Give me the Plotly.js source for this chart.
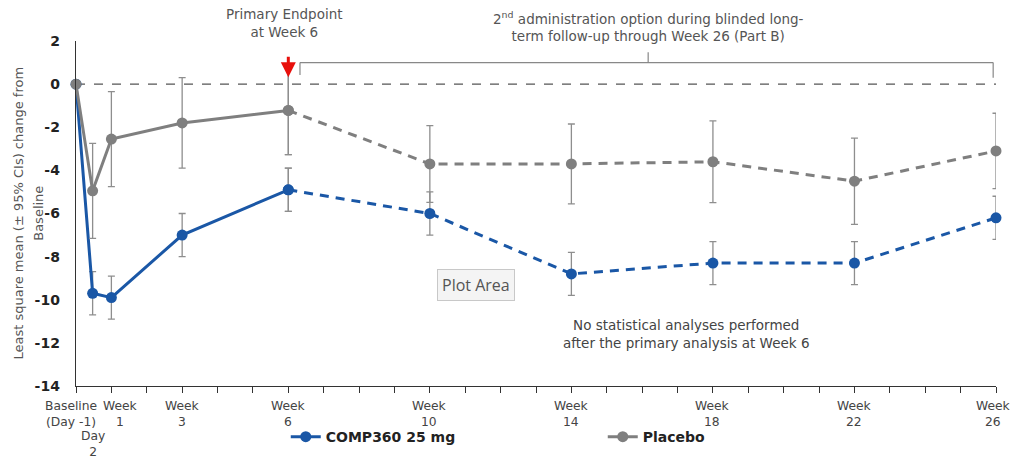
<!DOCTYPE html>
<html>
<head>
<meta charset="utf-8">
<script src="https://cdn.plot.ly/plotly-3.0.1.min.js"></script>
<style>html,body{margin:0;padding:0;background:#fff;}#chart{width:1010px;height:458px;}</style>
</head>
<body>
<div id="chart"></div>
<script>
// ---- data ----
const categories = ['Baseline<br>(Day -1)', 'Day<br>2', 'Week<br>1', 'Week<br>3', 'Week<br>6', 'Week<br>10', 'Week<br>14', 'Week<br>18', 'Week<br>22', 'Week<br>26'];
const weeks = [0, 0.47, 1, 3, 6, 10, 14, 18, 22, 26];
const comp360 = [0, -9.7, -9.9, -7.0, -4.9, -6.0, -8.8, -8.3, -8.3, -6.2];
const comp360CI = [0, 1.0, 1.0, 1.0, 1.0, 1.0, 1.0, 1.0, 1.0, 1.0];
const placebo = [0, -4.95, -2.55, -1.8, -1.22, -3.7, -3.7, -3.6, -4.5, -3.1];
const placeboCI = [0, 2.2, 2.2, 2.1, 2.05, 1.78, 1.85, 1.9, 2.0, 1.75];
const seriesNames = ['COMP360 25 mg', 'Placebo'];
const yTicks = [2, 0, -2, -4, -6, -8, -10, -12, -14];
const weekTicks = Array.from({length: 27}, (_, i) => i);
const primaryIdx = 4; // Week 6

const BLUE = '#1a57a6';
const GREY = '#7f7f7f';
const ERR = '#8e8e8e';
const FONT = 'DejaVu Sans, Open Sans, sans-serif';

function part(arr, a, b) { return arr.slice(a, b); }

function makeTraces(name, vals, ci, color) {
  const n = vals.length;
  const common = {
    type: 'scatter', mode: 'lines+markers', cliponaxis: false,
    marker: {color: color, size: 11},
    legendgroup: name, name: name, hoverinfo: 'x+y'
  };
  const solid = Object.assign({}, common, {
    x: part(weeks, 0, primaryIdx + 1), y: part(vals, 0, primaryIdx + 1),
    line: {color: color, width: 3},
    error_y: {type: 'data', array: part(ci, 0, primaryIdx + 1), color: ERR, thickness: 1.3, width: 3.5},
    showlegend: true
  });
  const dashed = Object.assign({}, common, {
    x: part(weeks, primaryIdx, n), y: part(vals, primaryIdx, n),
    line: {color: color, width: 3, dash: '9px,7px'},
    error_y: {type: 'data', array: part(ci, primaryIdx, n), color: ERR, thickness: 1.3, width: 3.5},
    showlegend: false
  });
  return [solid, dashed];
}

const data = [].concat(
  makeTraces(seriesNames[0], comp360, comp360CI, BLUE),
  makeTraces(seriesNames[1], placebo, placeboCI, GREY)
);

// x-axis labels as annotations (positioned with the axis scale)
const labelShift = [-5, 0, 9, 0, 0, 0, 0, 0, 0, -3];
const labelY = [-0.032, -0.118, -0.032, -0.032, -0.032, -0.032, -0.032, -0.032, -0.032, -0.032];
const annotations = categories.map((c, i) => ({
  x: weeks[i], xref: 'x', y: labelY[i], yref: 'paper', yanchor: 'top',
  text: c, showarrow: false, xshift: labelShift[i],
  font: {family: FONT, size: 12.3, color: '#444'}
}));

const yTitleLines = ['Least square mean (± 95% CIs) change from', 'Baseline'];
const yTitleX = [-0.063, -0.041];
yTitleLines.forEach((t, i) => annotations.push({
  x: yTitleX[i], xref: 'paper', xanchor: 'center', y: 0.5, yref: 'paper', yanchor: 'middle',
  textangle: -90, showarrow: false, text: t,
  font: {family: FONT, size: 13, color: '#555'}
}));

annotations.push(
  {x: weeks[primaryIdx], xref: 'x', xshift: -4, y: 1.051, yref: 'paper', yanchor: 'middle', showarrow: false,
   text: 'Primary Endpoint<br>at Week 6', font: {family: FONT, size: 13.5, color: '#555'}},
  {x: weeks[primaryIdx], xref: 'x', y: 0.32, yref: 'y', showarrow: true, ax: 0, ay: -22,
   arrowcolor: '#e8100c', arrowwidth: 3, arrowhead: 2, arrowsize: 1, text: ''},
  {x: 16.17, xref: 'x', y: 1.042, yref: 'paper', yanchor: 'middle', showarrow: false,
   text: '2<sup>nd</sup> administration option during blinded long-<br>term follow-up through Week 26 (Part B)',
   font: {family: FONT, size: 13.5, color: '#555'}},
  {x: 17.24, xref: 'x', y: -11.57, yref: 'y', showarrow: false,
   text: 'No statistical analyses performed<br>after the primary analysis at Week 6',
   font: {family: FONT, size: 13.5, color: '#444'}},
  {x: 0.435, xref: 'paper', y: 0.246, yref: 'paper', showarrow: false,
   text: 'Plot Area', bgcolor: '#f4f4f4', bordercolor: '#c8c8c8', borderwidth: 1, borderpad: 4,
   font: {family: 'Open Sans, sans-serif', size: 16, color: '#555'}}
);

const shapes = [
  {type: 'line', xref: 'x', yref: 'y', x0: 0, x1: 26, y0: 0, y1: 0,
   line: {color: '#555', width: 1.2, dash: 'dash'}, layer: 'below'},
  // bracket for Part B
  {type: 'line', xref: 'x', yref: 'y', x0: 6.33, x1: 25.92, y0: 1.0, y1: 1.0, line: {color: '#888', width: 1.2}},
  {type: 'line', xref: 'x', yref: 'y', x0: 6.33, x1: 6.33, y0: 1.0, y1: 0.42, line: {color: '#888', width: 1.2}},
  {type: 'line', xref: 'x', yref: 'y', x0: 25.92, x1: 25.92, y0: 1.0, y1: 0.3, line: {color: '#888', width: 1.2}},
  {type: 'line', xref: 'x', yref: 'y', x0: 16.17, x1: 16.17, y0: 1.0, y1: 1.48, line: {color: '#888', width: 1.2}}
];

const layout = {
  width: 1010, height: 458,
  margin: {l: 76, r: 14, t: 41, b: 72, autoexpand: false},
  paper_bgcolor: '#fff', plot_bgcolor: '#fff',
  font: {family: FONT, color: '#333'},
  showlegend: true,
  legend: {orientation: 'h', x: 0.228, xanchor: 'left', y: -0.148, yanchor: 'middle',
           entrywidth: 272, entrywidthmode: 'pixels', itemwidth: 30,
           font: {family: FONT, size: 14, color: '#222', weight: 'bold'}, bgcolor: 'rgba(0,0,0,0)'},
  xaxis: {range: [0, 26], tickmode: 'array', tickvals: weekTicks, ticktext: weekTicks.map(() => ''),
          ticks: 'outside', ticklen: 6, tickcolor: '#333', showline: true, linecolor: '#333', linewidth: 1.3,
          showgrid: false, zeroline: false, fixedrange: true},
  yaxis: {range: [-14, 2], tickmode: 'array', tickvals: yTicks, ticktext: yTicks.map(String),
          ticks: '', showline: true, linecolor: '#333', linewidth: 1.3, showgrid: false, zeroline: false,
          ticklabelstandoff: 12,
          tickfont: {family: FONT, size: 14, color: '#222', weight: 'bold'}, fixedrange: true},
  annotations: annotations,
  shapes: shapes,
  hovermode: 'closest'
};

Plotly.newPlot('chart', data, layout, {displayModeBar: false, staticPlot: true});
</script>
</body>
</html>
